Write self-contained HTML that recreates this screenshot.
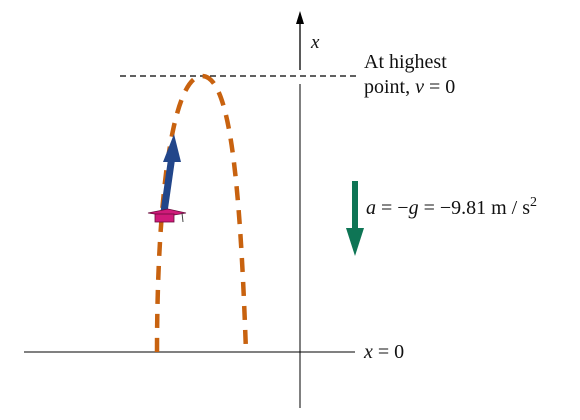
<!DOCTYPE html>
<html><head><style>body{margin:0;background:#fff}svg{display:block}text{font-family:"Liberation Serif",serif;fill:#111}</style></head>
<body>
<svg width="580" height="420" viewBox="0 0 580 420">
<line x1="300" y1="70" x2="300" y2="22" stroke="#000" stroke-width="1.3"/>
<polygon points="300,11 296,24 304,24" fill="#000"/>
<text x="311" y="48" font-size="19" font-style="italic">x</text>
<line x1="300" y1="84" x2="300" y2="408" stroke="#000" stroke-width="1"/>
<line x1="120" y1="76" x2="356" y2="76" stroke="#000" stroke-width="1.3" stroke-dasharray="6,4"/>
<text x="364" y="68" font-size="20">At highest</text>
<text x="364" y="93" font-size="20">point, <tspan font-style="italic">v</tspan> = 0</text>
<line x1="24" y1="352" x2="355" y2="352" stroke="#000" stroke-width="1"/>
<text x="364" y="358" font-size="20"><tspan font-style="italic">x</tspan> = 0</text>
<path d="M157,352 C157,200 172,76 202,76 C230,76 240,180 246,352" fill="none" stroke="#c8620f" stroke-width="4.5" stroke-dasharray="14,10"/>
<line x1="164" y1="212" x2="172" y2="156" stroke="#22468a" stroke-width="7"/>
<polygon points="174,134 163,162 181,162" fill="#22468a"/>
<polygon points="148,213 168,209 186,213 168,216" fill="#d01a7a" stroke="#6a0b3c" stroke-width="0.8"/>
<rect x="155" y="214" width="19" height="8" fill="#d01a7a" stroke="#6a0b3c" stroke-width="0.8"/>
<line x1="182" y1="213" x2="183" y2="222" stroke="#444" stroke-width="1"/>
<line x1="355" y1="181" x2="355" y2="232" stroke="#0e7555" stroke-width="6"/>
<polygon points="355,256 346,228 364,228" fill="#0e7555"/>
<text x="366" y="214" font-size="20"><tspan font-style="italic">a</tspan> = −<tspan font-style="italic">g</tspan> = −9.81 m / s<tspan font-size="14" dy="-8">2</tspan></text>
</svg>
</body></html>
